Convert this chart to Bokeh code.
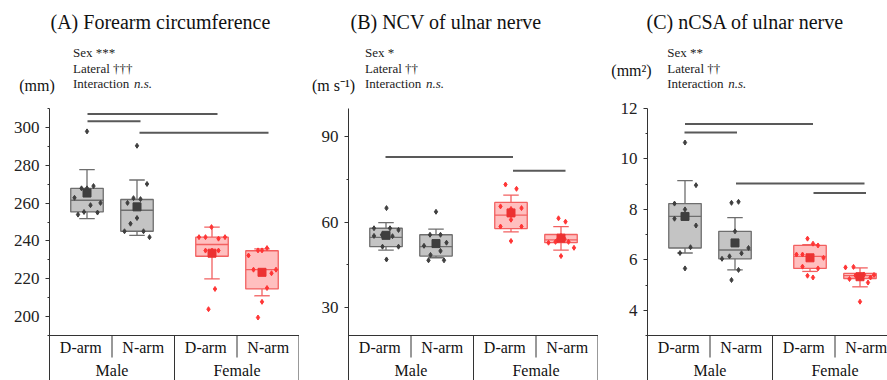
from bokeh.plotting import figure
from bokeh.layouts import row, column
from bokeh.models import Label, FixedTicker, Range1d
from bokeh.embed import file_html
from bokeh.resources import INLINE

# ---------------- data ----------------
sexes = ["Male", "Female"]
arms = ["D-arm", "N-arm"]

# Panel A: forearm circumference (mm), order: Male D, Male N, Female D, Female N
A_wlo = [251.8, 242.9, 219.9, 211.0]
A_q1 = [255.3, 245.1, 231.9, 214.6]
A_med = [261.5, 256.2, 238.1, 224.8]
A_q3 = [267.8, 261.9, 242.0, 234.8]
A_whi = [277.7, 272.2, 247.3, 235.8]
A_mean = [265.3, 258.0, 233.5, 223.4]
A_pts = [
    [297.9, 267.8, 267.8, 269.0, 262.8, 260.1, 258.9, 255.3, 253.9, 255.0],
    [290.3, 270.1, 262.1, 262.6, 260.1, 252.1, 249.1, 245.1, 245.1, 242.0],
    [247.3, 242.0, 242.0, 241.2, 242.0, 234.9, 234.9, 234.9, 214.6, 203.9],
    [236.2, 235.0, 235.0, 232.3, 224.8, 224.8, 222.9, 215.1, 207.8, 199.5],
]
A_jit = [
    [0.0, -0.11, 0.0, 0.13, -0.25, 0.27, 0.07, -0.06, -0.18, 0.21],
    [0.0, 0.2, 0.07, -0.07, -0.19, 0.0, -0.13, -0.25, 0.13, 0.25],
    [-0.01, -0.26, -0.13, 0.13, 0.26, -0.13, 0.13, 0.0, 0.06, -0.07],
    [0.1, 0.0, -0.08, -0.27, -0.17, 0.28, 0.19, 0.1, 0.0, -0.08],
]
A_sig_x0 = [0.76, 0.76, 1.80]
A_sig_x1 = [3.36, 1.82, 4.38]
A_sig_y = [307.1, 303.2, 297.2]

# Panel B: NCV of ulnar nerve (m s-1)
B_wlo = [50.1, 47.4, 56.5, 50.1]
B_q1 = [51.3, 48.0, 57.7, 52.7]
B_med = [54.6, 51.3, 62.4, 53.7]
B_q3 = [57.8, 55.5, 66.9, 55.6]
B_whi = [59.8, 57.5, 69.5, 58.4]
B_mean = [55.3, 52.4, 63.2, 54.3]
B_pts = [
    [64.9, 57.8, 57.8, 57.2, 55.1, 55.5, 55.0, 51.3, 51.3, 46.8],
    [63.6, 55.5, 55.5, 51.6, 52.7, 48.4, 49.8, 52.4, 46.5, 46.5],
    [73.2, 71.7, 65.5, 64.9, 64.6, 60.8, 58.4, 58.4, 53.3, 63.0],
    [61.3, 60.1, 52.7, 53.0, 55.1, 53.0, 50.9, 48.0, 54.0, 53.6],
]
B_jit = [
    [0.01, -0.24, 0.08, 0.25, -0.24, -0.08, 0.13, -0.07, 0.25, 0.01],
    [0.0, -0.12, 0.09, -0.24, 0.21, -0.11, 0.09, 0.0, -0.15, 0.16],
    [-0.11, 0.11, -0.21, 0.21, 0.0, 0.0, -0.21, 0.21, 0.0, 0.0],
    [-0.05, 0.09, -0.25, -0.11, 0.0, 0.15, 0.26, 0.0, 0.07, -0.07],
]
B_sig_x0 = [0.74, 3.29]
B_sig_x1 = [3.29, 4.34]
B_sig_y = [82.9, 78.1]

# Panel C: nCSA of ulnar nerve (mm2)
C_wlo = [6.27, 5.60, 5.54, 4.93]
C_q1 = [6.47, 6.04, 5.66, 5.26]
C_med = [7.72, 6.39, 6.14, 5.37]
C_q3 = [8.23, 7.13, 6.57, 5.46]
C_whi = [9.14, 7.67, 6.60, 5.68]
C_mean = [7.72, 6.67, 6.08, 5.33]
C_pts = [
    [10.65, 8.96, 8.23, 8.00, 7.63, 7.36, 6.50, 6.27, 5.66, 7.70],
    [8.26, 8.30, 7.13, 6.47, 6.26, 6.14, 6.04, 5.60, 5.20, 6.70],
    [6.84, 6.64, 6.57, 6.21, 6.21, 6.08, 5.73, 5.66, 5.37, 5.30],
    [5.70, 5.72, 5.24, 5.10, 5.40, 5.30, 4.34, 5.38, 5.42, 5.35],
]
C_jit = [
    [0.0, 0.22, -0.21, 0.0, -0.21, 0.22, 0.11, -0.10, 0.0, 0.0],
    [-0.07, 0.07, 0.0, 0.27, 0.13, -0.11, -0.26, 0.07, -0.07, 0.0],
    [-0.05, 0.06, 0.16, -0.27, -0.15, 0.27, -0.15, 0.16, -0.05, 0.06],
    [-0.29, -0.13, -0.21, 0.16, 0.28, 0.21, 0.0, -0.09, 0.08, 0.0],
]
C_sig_x0 = [0.75, 0.74, 1.77, 3.32]
C_sig_x1 = [3.31, 1.79, 4.34, 4.37]
C_sig_y = [11.39, 11.05, 9.03, 8.65]

titles = ["(A) Forearm circumference", "(B) NCV of ulnar nerve", "(C) nCSA of ulnar nerve"]
units = ["(mm)", "(m s\u207b\u00b9)", "(mm\u00b2)"]
sex_sig = ["Sex ***", "Sex *", "Sex **"]
lat_sig = ["Lateral \u2020\u2020\u2020", "Lateral \u2020\u2020", "Lateral \u2020\u2020"]
axis_lo = [190, 20, 3]
axis_hi = [310, 100, 12]
major_ticks = [[200, 220, 240, 260, 280, 300], [30, 60, 90], [4, 6, 8, 10, 12]]
minor_ticks = [[190, 210, 230, 250, 270, 290, 310], [45, 75], [3, 5, 7, 9, 11]]

# ---------------- layout / style ----------------
H = 380
HEAD_H = 100
TOP_PX = 108
AXIS_PX = 335
LEFT = 49
PX_PER_X = 50.0
FONT = "Liberation Serif"
TXT = "#111111"
GRAY = dict(fill="#c4c4c4", line="#6e6e6e", pt="#3f3f3f", mean="#3f3f3f")
RED = dict(fill="#ffbfbf", line="#f26060", pt="#ff3535", mean="#ec3232")


def header(i, width, title_dx, stat_dx, unit_dx, unit_py):
    h = figure(width=width, height=HEAD_H, x_range=Range1d(0, width),
               y_range=Range1d(HEAD_H, 0), output_backend="svg", toolbar_location=None,
               x_axis_location=None, y_axis_location=None, min_border_left=0,
               min_border_right=0, min_border_top=0, min_border_bottom=0,
               frame_align=False)
    h.outline_line_color = None
    h.grid.visible = False
    h.add_layout(Label(x=LEFT + title_dx, y=21, text=titles[i], text_font=FONT,
                       text_font_size="20px", text_align="left", text_baseline="middle",
                       text_color=TXT))
    sx = LEFT + stat_dx
    for txt, py in ((sex_sig[i], 52), (lat_sig[i], 67.5), ("Interaction", 82.5)):
        h.add_layout(Label(x=sx, y=py, text=txt, text_font=FONT, text_font_size="13px",
                           text_align="left", text_baseline="middle", text_color="#222222"))
    h.add_layout(Label(x=sx + 61, y=82.5, text="n.s.", text_font=FONT,
                       text_font_size="13px", text_font_style="italic", text_align="left",
                       text_baseline="middle", text_color="#222222"))
    h.add_layout(Label(x=LEFT + unit_dx, y=unit_py, text=units[i], text_font=FONT,
                       text_font_size="16px", text_align="center", text_baseline="middle",
                       text_color=TXT))
    return h


def body(i, wlo, q1, med, q3, whi, mean, pts, jit, sx0, sx1, sy, frame_w):
    lo, hi = axis_lo[i], axis_hi[i]
    ppu = (AXIS_PX - TOP_PX) / (hi - lo)
    y0 = lo - (H - AXIS_PX) / ppu

    def ydat(px):
        return hi - (px - TOP_PX) / ppu

    xmax = frame_w / PX_PER_X
    p = figure(width=LEFT + frame_w, height=H - HEAD_H, x_range=Range1d(0, xmax),
               y_range=Range1d(y0, hi), output_backend="svg", toolbar_location=None,
               x_axis_location=None, min_border_left=LEFT, min_border_right=0,
               min_border_top=TOP_PX - HEAD_H, min_border_bottom=0, frame_align=False)
    p.outline_line_color = None
    p.grid.visible = False

    ax = p.yaxis[0]
    ax.ticker = FixedTicker(ticks=major_ticks[i], minor_ticks=minor_ticks[i])
    ax.bounds = (y0, hi)
    ax.axis_line_color = "#333333"
    ax.major_tick_line_color = "#333333"
    ax.minor_tick_line_color = "#333333"
    ax.major_tick_out = 4
    ax.major_tick_in = 0
    ax.minor_tick_out = 2
    ax.minor_tick_in = 0
    ax.major_label_standoff = 6
    ax.major_label_text_font = FONT
    ax.major_label_text_font_size = "17px"
    ax.major_label_text_color = "#222222"

    xs = [g * 2.5 + a * 1.0 + 0.75 for g in range(2) for a in range(2)]
    styles = [GRAY, GRAY, RED, RED]
    bw = 0.65
    cw = 0.31
    for k in range(4):
        st = styles[k]
        x = xs[k]
        p.segment([x, x], [q3[k], q1[k]], [x, x], [whi[k], wlo[k]],
                  line_color=st["line"], line_width=1.3)
        p.segment([x - cw / 2, x - cw / 2], [whi[k], wlo[k]], [x + cw / 2, x + cw / 2],
                  [whi[k], wlo[k]], line_color=st["line"], line_width=1.3)
        p.vbar(x=[x], width=bw, top=[q3[k]], bottom=[q1[k]], fill_color=st["fill"],
               line_color=st["line"], line_width=1.3)
        p.segment([x - bw / 2], [med[k]], [x + bw / 2], [med[k]],
                  line_color=st["line"], line_width=1.3)
        p.scatter([x + j for j in jit[k]], pts[k], marker="diamond", size=5,
                  fill_color=st["pt"], line_color=st["pt"])
        p.scatter([x], [mean[k]], marker="square", size=8,
                  fill_color=st["mean"], line_color=st["mean"])

    # significance bars
    p.segment(sx0, sy, sx1, sy, line_color="#595959", line_width=2)

    # category table below the axis
    line_kw = dict(line_color="#333333", line_width=1)
    p.segment([0], [lo], [5], [lo], **line_kw)
    p.segment([1.25, 3.75], [lo, lo], [1.25, 3.75], [ydat(357), ydat(357)], **line_kw)
    p.segment([2.5, 4.99], [lo, lo], [2.5, 4.99], [y0, y0], **line_kw)
    for g in range(2):
        for a in range(2):
            p.add_layout(Label(x=g * 2.5 + a * 1.25 + 0.625, y=ydat(347), text=arms[a],
                               text_font=FONT, text_font_size="16px", text_align="center",
                               text_baseline="middle", text_color=TXT))
        p.add_layout(Label(x=g * 2.5 + 1.25, y=ydat(370), text=sexes[g],
                           text_font=FONT, text_font_size="16px", text_align="center",
                           text_baseline="middle", text_color=TXT))
    return p


hA = header(0, 299, 1, 23.5, -12.5, 85)
hB = header(1, 299, 2, 16.5, -15, 85)
hC = header(2, 289, -1, 19.7, -16, 70)
pA = body(0, A_wlo, A_q1, A_med, A_q3, A_whi, A_mean, A_pts, A_jit,
          A_sig_x0, A_sig_x1, A_sig_y, 250)
pB = body(1, B_wlo, B_q1, B_med, B_q3, B_whi, B_mean, B_pts, B_jit,
          B_sig_x0, B_sig_x1, B_sig_y, 250)
pC = body(2, C_wlo, C_q1, C_med, C_q3, C_whi, C_mean, C_pts, C_jit,
          C_sig_x0, C_sig_x1, C_sig_y, 240)

layout = row(column(hA, pA, spacing=0), column(hB, pB, spacing=0),
             column(hC, pC, spacing=0), spacing=0)
open("out.html", "w").write(file_html(layout, INLINE))
